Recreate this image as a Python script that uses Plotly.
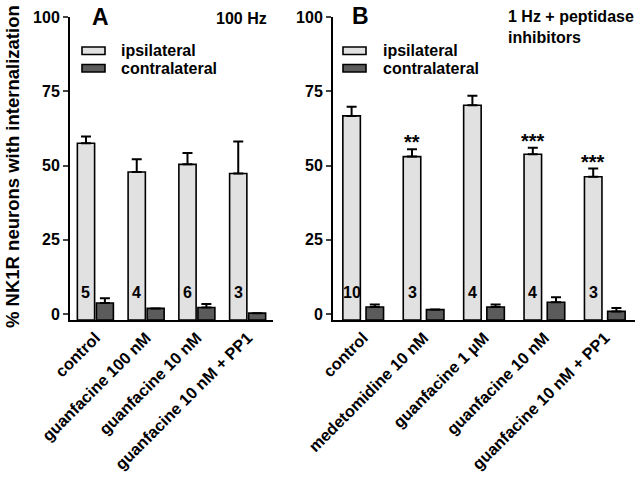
import plotly.graph_objects as go

# ---------------- data ----------------
cats_A = ["control", "guanfacine 100 nM", "guanfacine 10 nM", "guanfacine 10 nM + PP1"]
ipsi_A = [57.5, 47.8, 50.4, 47.3]
ipsi_A_err = [2.3, 4.3, 3.8, 10.8]
contra_A = [3.7, 1.9, 2.2, 0.3]
contra_A_err = [1.6, 0.0, 1.2, 0.0]
n_A = ["5", "4", "6", "3"]

cats_B = ["control", "medetomidine 10 nM", "guanfacine 1 µM", "guanfacine 10 nM", "guanfacine 10 nM + PP1"]
ipsi_B = [66.7, 53.0, 70.3, 53.8, 46.2]
ipsi_B_err = [3.1, 2.5, 3.2, 2.2, 2.8]
contra_B = [2.4, 1.5, 2.4, 4.0, 0.9]
contra_B_err = [0.8, 0.0, 0.8, 1.7, 1.1]
n_B = ["10", "3", "4", "4", "3"]
stars_B = ["", "**", "", "***", "***"]

y_ticks = [0, 25, 50, 75, 100]
Y0 = -2  # axis baseline

# ---------------- style ----------------
FONT = "Liberation Sans, Arial, Helvetica, sans-serif"
IPSI_COLOR = "#e1e1e1"
CONTRA_COLOR = "#5b5b5b"
W, H = 642, 477
ML, MR, MT, MB = 70, 7, 17, 157
PW, PH = W - ML - MR, H - MT - MB


def px(xp):
    return (xp - ML) / PW


def py(yp):
    return (H - MB - yp) / PH


fig = go.Figure()


def add_bars(cats, vals, errs, color, xa, ya, offset, width):
    fig.add_trace(go.Bar(
        x=cats, y=[v - Y0 for v in vals], base=Y0,
        xaxis=xa, yaxis=ya, offset=offset, width=width,
        marker=dict(color=color, line=dict(color="black", width=1.6)),
        error_y=dict(type="data", array=errs, arrayminus=[0] * len(errs), symmetric=False,
                     color="black", thickness=2, width=5, visible=True),
        showlegend=False,
    ))


add_bars(cats_A, ipsi_A, ipsi_A_err, IPSI_COLOR, "x", "y", -0.355, 0.34)
add_bars(cats_A, contra_A, contra_A_err, CONTRA_COLOR, "x", "y", 0.02, 0.335)
add_bars(cats_B, ipsi_B, ipsi_B_err, IPSI_COLOR, "x2", "y2", -0.337, 0.29)
add_bars(cats_B, contra_B, contra_B_err, CONTRA_COLOR, "x2", "y2", 0.047, 0.29)

axis_common = dict(showline=True, linecolor="black", linewidth=2, showgrid=False, zeroline=False,
                   automargin=False)
xtickfont = dict(family=FONT, size=16.3, color="black", weight="bold")
ytickfont = dict(family=FONT, size=16, color="black", weight="bold")

fig.update_layout(
    width=W, height=H, margin=dict(l=ML, r=MR, t=MT, b=MB),
    paper_bgcolor="white", plot_bgcolor="white",
    barmode="overlay",
    xaxis=dict(domain=[0, px(273)], type="category", range=[-0.5, len(cats_A) - 0.5],
               ticks="", tickangle=-45, anchor="y", tickfont=xtickfont, **axis_common),
    yaxis=dict(range=[Y0, 100], tickvals=y_ticks, ticks="outside", ticklen=5, tickwidth=2,
               anchor="x", tickfont=ytickfont, **axis_common),
    xaxis2=dict(domain=[px(333), 1], type="category", range=[-0.5, len(cats_B) - 0.5],
                ticks="", tickangle=-45, anchor="y2", tickfont=xtickfont, **axis_common),
    yaxis2=dict(range=[Y0, 100], tickvals=y_ticks, ticks="outside", ticklen=5, tickwidth=2,
                anchor="x2", tickfont=ytickfont, **axis_common),
    showlegend=False,
)

bold = lambda s: dict(family=FONT, size=s, color="black", weight="bold")
ann = []
# n labels inside ipsilateral bars
for cats, ns, xr, yr, off, wd in [(cats_A, n_A, "x", "y", -0.355, 0.34), (cats_B, n_B, "x2", "y2", -0.337, 0.29)]:
    for i, n in enumerate(ns):
        ann.append(dict(x=i + off + wd / 2, y=7.2, xref=xr, yref=yr, text=n, showarrow=False,
                        font=bold(16), xanchor="center", yanchor="middle"))
# significance stars
for i, s in enumerate(stars_B):
    if s:
        ann.append(dict(x=i - 0.337 + 0.145, y=ipsi_B[i] + ipsi_B_err[i], xref="x2", yref="y2", text=s,
                        showarrow=False, font=bold(20), xanchor="center", yanchor="bottom", yshift=-6))

# panel letters and conditions
ann.append(dict(x=px(90), y=py(17), xref="paper", yref="paper", text="A", showarrow=False,
                font=bold(23), xanchor="left", yanchor="middle"))
ann.append(dict(x=px(350), y=py(16), xref="paper", yref="paper", text="B", showarrow=False,
                font=bold(23), xanchor="left", yanchor="middle"))
ann.append(dict(x=px(269), y=py(18), xref="paper", yref="paper", text="100 Hz", showarrow=False,
                font=bold(16), xanchor="right", yanchor="middle"))
ann.append(dict(x=px(506), y=py(27), xref="paper", yref="paper", text="1 Hz + peptidase<br>inhibitors",
                showarrow=False, font=bold(16), xanchor="left", yanchor="middle", align="left"))
# y-axis title
ann.append(dict(x=px(12), y=py(167), xref="paper", yref="paper", text="% NK1R neurons with internalization",
                showarrow=False, font=bold(18.5), textangle=-90, xanchor="center", yanchor="middle"))

# manual legends
shapes = []
for bx, tx in [(82, 119), (343, 381)]:
    for (y0, y1, col, label) in [(47, 54.5, IPSI_COLOR, "ipsilateral"), (64.5, 72, CONTRA_COLOR, "contralateral")]:
        shapes.append(dict(type="rect", xref="paper", yref="paper", x0=px(bx), x1=px(bx + 23),
                           y0=py(y1), y1=py(y0), fillcolor=col, line=dict(color="black", width=1.6)))
        ann.append(dict(x=px(tx), y=py((y0 + y1) / 2), xref="paper", yref="paper", text=label,
                        showarrow=False, font=bold(16), xanchor="left", yanchor="middle"))

fig.update_layout(annotations=ann, shapes=shapes)
fig.write_html("out.html", config={"displayModeBar": False},
               post_script="document.body.style.margin='0';")
